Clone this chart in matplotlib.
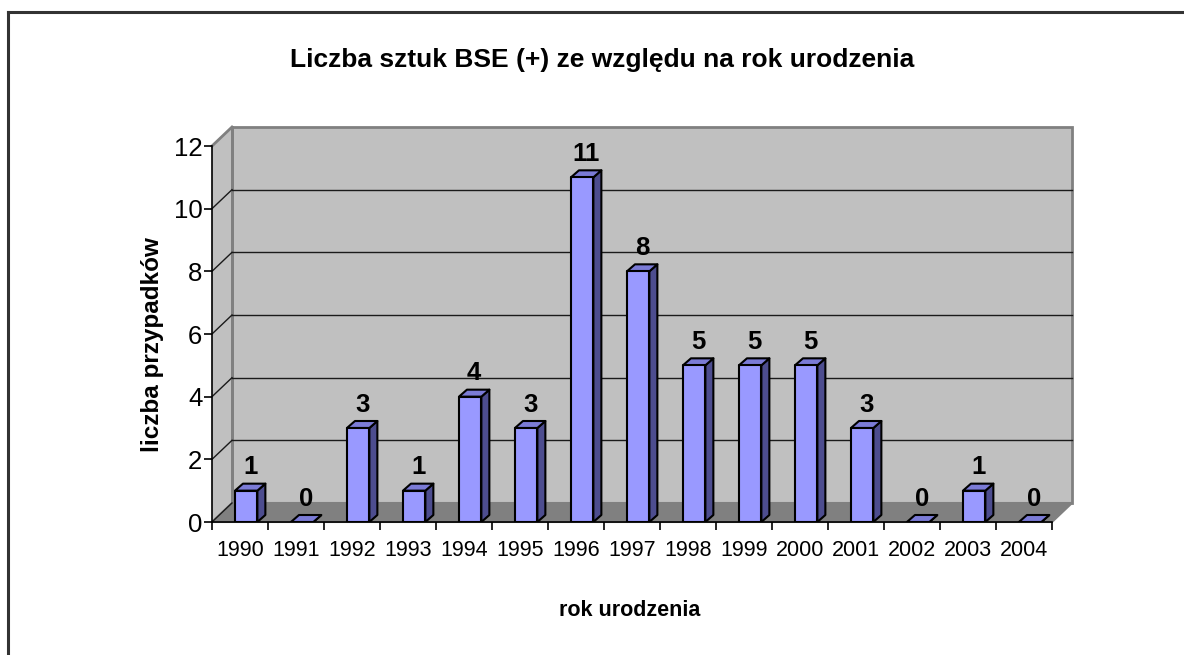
import numpy as np
import matplotlib.pyplot as plt
from matplotlib import font_manager
from matplotlib.patches import Polygon
from matplotlib.lines import Line2D

years = ['1990', '1991', '1992', '1993', '1994', '1995', '1996', '1997',
         '1998', '1999', '2000', '2001', '2002', '2003', '2004']
cases = [1, 0, 3, 1, 4, 3, 11, 8, 5, 5, 5, 3, 0, 1, 0]
yticks = [0, 2, 4, 6, 8, 10, 12]

title = 'Liczba sztuk BSE (+) ze względu na rok urodzenia'
xlabel = 'rok urodzenia'
ylabel = 'liczba przypadków'

names = {f.name for f in font_manager.fontManager.ttflist}
narrow = 'Liberation Sans Narrow' if 'Liberation Sans Narrow' in names else 'Liberation Sans'
plt.rcParams['font.family'] = [narrow, 'DejaVu Sans']

fig = plt.figure(figsize=(11.84, 6.55), dpi=100)
ax = fig.add_axes([212 / 1184, 1 - 522 / 655, 840 / 1184, 376 / 655])
n = len(years)
ymax = 12
ax.set_xlim(0, n)
ax.set_ylim(0, ymax)

# depth of the 3d box (data units)
dx, dy = 20 / 56, 19 / 31.33
# depth of the bars
bdx, bdy = 8 / 56, 7 / 31.33

wall = '#c0c0c0'
edge = '#808080'
# side wall
ax.add_patch(Polygon([(0, 0), (0, ymax), (dx, ymax + dy), (dx, dy)], closed=True,
                     facecolor=wall, edgecolor='none', clip_on=False, zorder=0))
# back wall
ax.add_patch(Polygon([(dx, dy), (dx, ymax + dy), (n + dx, ymax + dy), (n + dx, dy)], closed=True,
                     facecolor=wall, edgecolor=edge, lw=2, clip_on=False, zorder=0))
# floor
ax.add_patch(Polygon([(0, 0), (n, 0), (n + dx, dy), (dx, dy)], closed=True,
                     facecolor='#808080', edgecolor=edge, lw=1.5, clip_on=False, zorder=0.5))
ax.plot([0, dx], [ymax, ymax + dy], color=edge, lw=2, clip_on=False, zorder=0.6)
ax.plot([dx, dx], [dy, ymax + dy], color=edge, lw=2, clip_on=False, zorder=0.6)
for v in yticks[1:-1]:
    ax.plot([dx, n + dx], [v + dy, v + dy], color='#1a1a1a', lw=1, clip_on=False, zorder=0.7)
    ax.plot([0, dx], [v, v + dy], color='#1a1a1a', lw=1, clip_on=False, zorder=0.7)
ax.plot([0, dx], [0, dy], color='#1a1a1a', lw=1, clip_on=False, zorder=0.7)

front = '#9999ff'
top = '#7b7bd6'
side = '#4d4d8f'
x0, w = 0.41, 0.40
for i, v in enumerate(cases):
    l = i + x0
    r = l + w
    ax.add_patch(Polygon([(r, 0), (r + bdx, bdy), (r + bdx, v + bdy), (r, v)], closed=True,
                         facecolor=side, edgecolor='black', lw=1.5, joinstyle='round', zorder=2))
    ax.add_patch(Polygon([(l, v), (l + bdx, v + bdy), (r + bdx, v + bdy), (r, v)], closed=True,
                         facecolor=top, edgecolor='black', lw=1.5, joinstyle='round', zorder=2))
    if v > 0:
        ax.add_patch(Polygon([(l, 0), (l, v), (r, v), (r, 0)], closed=True,
                             facecolor=front, edgecolor='black', lw=1.5, joinstyle='round', zorder=2))
    ax.annotate(str(v), (l + (w + bdx) / 2, v + bdy), xytext=(0, 3), textcoords='offset points',
                ha='center', va='bottom', fontsize=18.5, fontweight='bold', zorder=3,
                annotation_clip=False)

for s in ['top', 'right']:
    ax.spines[s].set_visible(False)
for s in ['left', 'bottom']:
    ax.spines[s].set_linewidth(1.2)
    ax.spines[s].set_zorder(1)
ax.set_facecolor('none')
ax.set_xticks(np.arange(n + 1))
ax.set_xticklabels([])
ax.set_xticks(np.arange(n) + 0.5, minor=True)
ax.set_xticklabels(years, minor=True, fontsize=15.5)
ax.tick_params(axis='x', which='major', length=6, width=1.2, direction='out')
ax.tick_params(axis='x', which='minor', length=0, pad=13)
ax.set_yticks(yticks)
ax.set_yticklabels([str(t) for t in yticks], fontsize=18.5)
ax.tick_params(axis='y', length=6, width=1.2, pad=1)

fig.text(630 / 1184, 1 - 610 / 655, xlabel, ha='center', va='center',
         fontsize=15.5, fontweight='bold')
fig.text(152 / 1184, 1 - 345 / 655, ylabel, ha='center', va='center', rotation=90,
         fontsize=17.5, fontweight='bold', family=['Liberation Sans', 'DejaVu Sans'])
fig.text(602 / 1184, 1 - 60 / 655, title, ha='center', va='center',
         fontsize=19, fontweight='bold')

# outer frame of the chart area
fig.add_artist(Line2D([8 / 1184, 8 / 1184], [-0.05, 1 - 12 / 655], color='#333333', lw=2.2))
fig.add_artist(Line2D([8 / 1184, 1.05], [1 - 12 / 655, 1 - 12 / 655], color='#333333', lw=2.2))

fig.savefig('out.png', dpi=100)
